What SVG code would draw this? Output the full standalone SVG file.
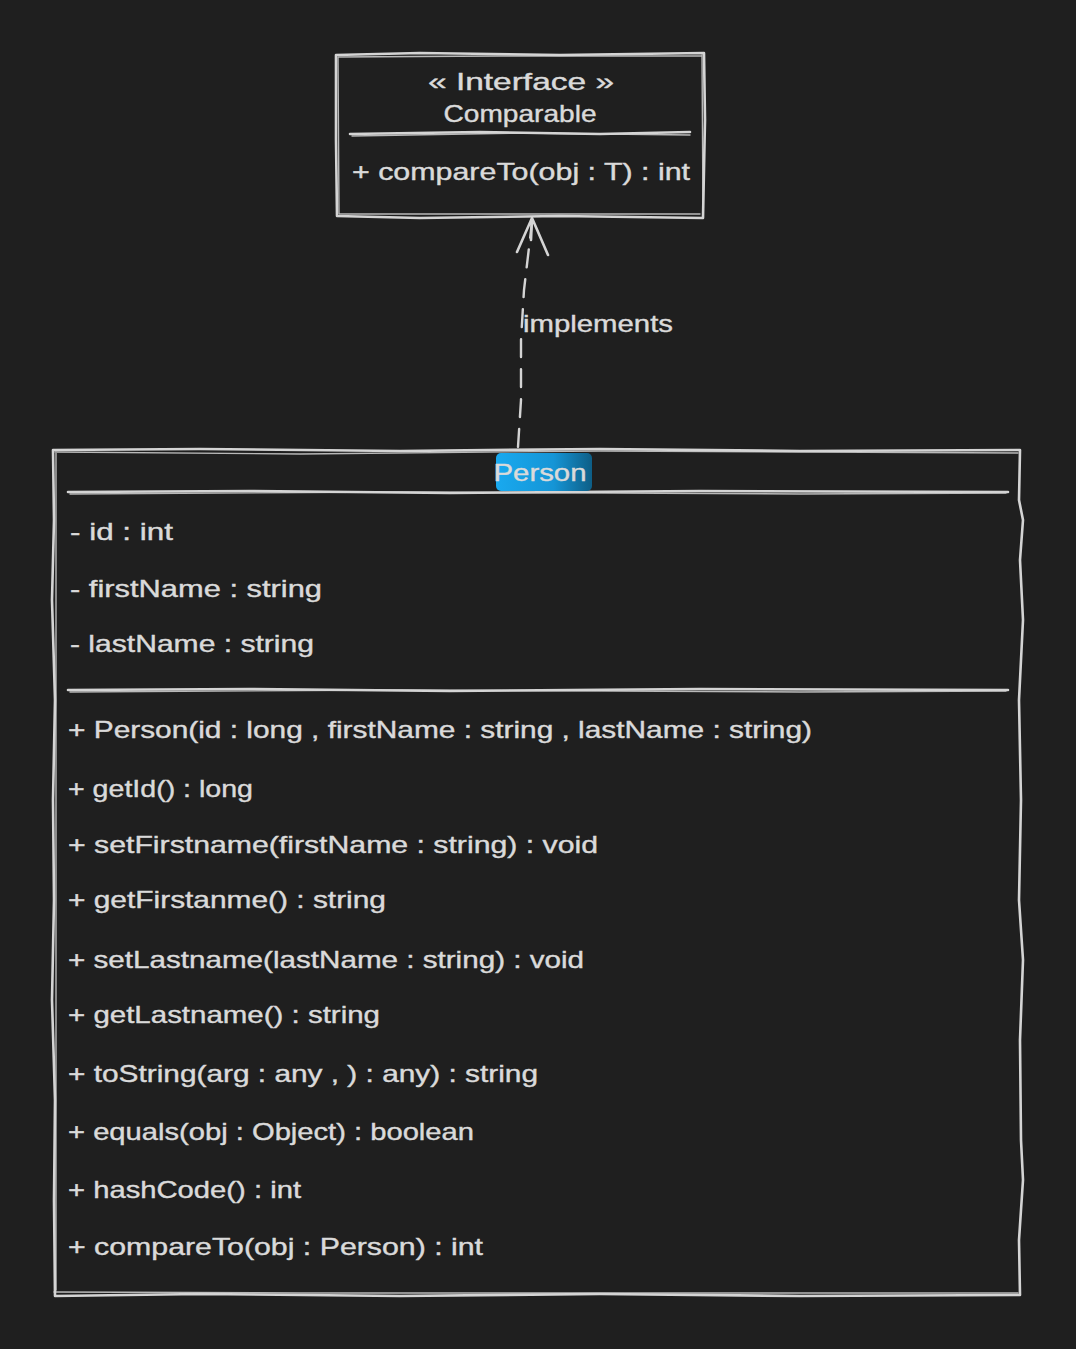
<svg xmlns="http://www.w3.org/2000/svg" width="1076" height="1349" viewBox="0 0 1076 1349">
<defs>
<style>
.sk{fill:none;stroke:#d4d4d4;stroke-width:2.6;stroke-linejoin:round;stroke-linecap:round}
.sk2{fill:none;stroke:#d4d4d4;stroke-width:1.4;stroke-linecap:round;opacity:0.85}
.t{font-family:"Liberation Sans","Noto Sans",sans-serif;font-size:24px;fill:#dadada;stroke:#dadada;stroke-width:0.4}
.c{text-anchor:middle}
.dash{fill:none;stroke:#d4d4d4;stroke-width:2.4;stroke-dasharray:18 12;stroke-linecap:round}
</style>
<linearGradient id="pg" x1="0" y1="0" x2="1" y2="0">
<stop offset="0" stop-color="#19a9ef"/>
<stop offset="0.6" stop-color="#1595d6"/>
<stop offset="1" stop-color="#0e5e86"/>
</linearGradient>
</defs>
<rect width="1076" height="1349" fill="#1f1f1f"/>

<g id="Comparable">
<path class="sk" d="M336,55 L420,53 L560,55 L704,53 L705,120 L703,218 L560,216 L420,218 L337,216 L336,140 Z"/>
<path class="sk2" d="M338,57 L500,56 L702,56 M702,55 L703,215 M339,214 L700,214 M338,57 L339,214"/>
<path class="sk" d="M350,134 L480,132 L600,134 L690,132"/>
<path class="sk2" d="M352,136 L520,133 L690,135"/>
<text class="t c" x="521" y="90" textLength="186" lengthAdjust="spacingAndGlyphs">« Interface »</text>
<text class="t c" x="520" y="122" textLength="153" lengthAdjust="spacingAndGlyphs">Comparable</text>
<text class="t" x="352" y="180" textLength="338" lengthAdjust="spacingAndGlyphs">+ compareTo(obj : T) : int</text>
</g>

<g id="Person">
<path class="sk" d="M53,450 L200,449 L400,451 L600,449 L800,451 L1020,450 L1019,500 L1023,520 L1020,560 L1023,620 L1019,700 L1021,800 L1019,900 L1023,960 L1020,1040 L1021,1140 L1023,1180 L1019,1240 L1020,1295 L800,1296 L600,1294 L400,1296 L200,1294 L55,1296 L54,1200 L55,1100 L52,1000 L54,900 L53,800 L55,700 L52,600 L54,520 Z"/>
<path class="sk2" d="M55,452 L300,454 L600,451 L1018,453 M54,1292 L300,1293 L700,1293 L1018,1293 M56,452 L56,1290"/>
<path class="sk" d="M68,492 L250,491 L450,493 L700,491 L1008,492"/>
<path class="sk2" d="M70,494 L400,492 L800,494 L1006,493"/>
<path class="sk" d="M68,690 L250,689 L450,691 L700,689 L1008,690"/>
<path class="sk2" d="M70,692 L400,690 L800,692 L1006,691"/>
<rect x="496" y="453" width="96" height="38" rx="5" fill="url(#pg)"/>
<text class="t c" x="540" y="481" textLength="93" lengthAdjust="spacingAndGlyphs">Person</text>
<text class="t" x="70" y="540" textLength="103" lengthAdjust="spacingAndGlyphs">- id : int</text>
<text class="t" x="70" y="597" textLength="252" lengthAdjust="spacingAndGlyphs">- firstName : string</text>
<text class="t" x="70" y="652" textLength="244" lengthAdjust="spacingAndGlyphs">- lastName : string</text>
<text class="t" x="68" y="738" textLength="744" lengthAdjust="spacingAndGlyphs">+ Person(id : long , firstName : string , lastName : string)</text>
<text class="t" x="68" y="797" textLength="185" lengthAdjust="spacingAndGlyphs">+ getId() : long</text>
<text class="t" x="68" y="853" textLength="530" lengthAdjust="spacingAndGlyphs">+ setFirstname(firstName : string) : void</text>
<text class="t" x="68" y="908" textLength="318" lengthAdjust="spacingAndGlyphs">+ getFirstanme() : string</text>
<text class="t" x="68" y="968" textLength="516" lengthAdjust="spacingAndGlyphs">+ setLastname(lastName : string) : void</text>
<text class="t" x="68" y="1023" textLength="312" lengthAdjust="spacingAndGlyphs">+ getLastname() : string</text>
<text class="t" x="68" y="1082" textLength="470" lengthAdjust="spacingAndGlyphs">+ toString(arg : any , ) : any) : string</text>
<text class="t" x="68" y="1140" textLength="406" lengthAdjust="spacingAndGlyphs">+ equals(obj : Object) : boolean</text>
<text class="t" x="68" y="1198" textLength="233" lengthAdjust="spacingAndGlyphs">+ hashCode() : int</text>
<text class="t" x="68" y="1255" textLength="415" lengthAdjust="spacingAndGlyphs">+ compareTo(obj : Person) : int</text>
</g>

<g id="connectors">
<path class="dash" d="M518,447 L521,400 L521,340 L524,290 L532,222"/>
<path class="sk" d="M517,252 L532,218 L548,255 M532,218 L531,240"/>
<text class="t" x="523" y="332" textLength="150" lengthAdjust="spacingAndGlyphs">implements</text>
</g>
</svg>
